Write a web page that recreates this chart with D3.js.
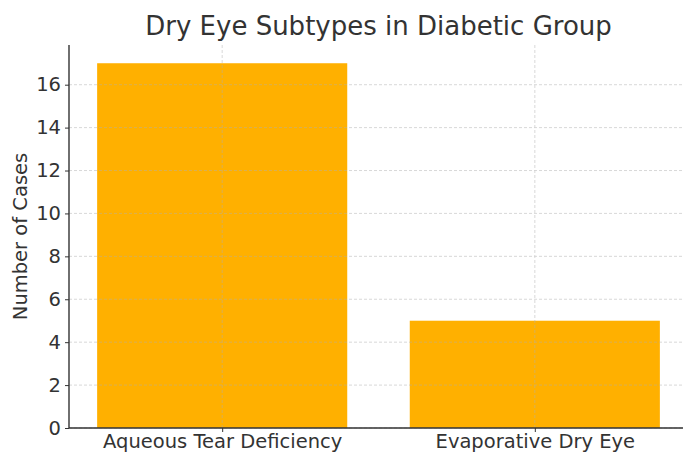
<!DOCTYPE html>
<html><head><meta charset="utf-8">
<script src="https://cdn.jsdelivr.net/npm/d3@7"></script>
<style>body{margin:0;background:#fff}svg{display:block}</style>
</head><body>
<script>
const categories = ["Aqueous Tear Deficiency", "Evaporative Dry Eye"];
const counts = [17, 5];
const yTicks = [0, 2, 4, 6, 8, 10, 12, 14, 16];
const title = "Dry Eye Subtypes in Diabetic Group";
const yTitle = "Number of Cases";

const W = 683, H = 455;
const m = {left: 69, right: W - 688, top: 45, bottom: H - 428};
const svg = d3.select("body").append("svg").attr("width", W).attr("height", H)
  .style("font-family", "DejaVu Sans, sans-serif");

const x = d3.scaleLinear().domain([-0.49, 1.49]).range([m.left, W - m.right]);
const y = d3.scaleLinear().domain([0, 17.85]).range([H - m.bottom, m.top]);
const bw = x(0.8) - x(0);

const g = svg.append("g");
g.selectAll("rect.bar").data(counts).enter().append("rect")
  .attr("x", (d, i) => x(i - 0.4)).attr("width", bw)
  .attr("y", d => y(d)).attr("height", d => y(0) - y(d))
  .attr("fill", "#FFB000");

// grid
const grid = svg.append("g").attr("stroke", "#b0b0b0").attr("stroke-dasharray", "3,2")
  .attr("stroke-width", 0.8).attr("opacity", 0.6);
yTicks.forEach(t => grid.append("line").attr("x1", m.left).attr("x2", W).attr("y1", y(t)).attr("y2", y(t)));
categories.forEach((c, i) => grid.append("line").attr("x1", x(i)).attr("x2", x(i)).attr("y1", m.top).attr("y2", H - m.bottom));

// axes
const yAxis = d3.axisLeft(y).tickValues(yTicks).tickSize(4).tickPadding(4);
const ya = svg.append("g").attr("transform", `translate(${m.left},0)`).call(yAxis);
ya.select(".domain").attr("d", `M0,${m.top}V${H - m.bottom}`);
const xAxis = d3.axisBottom(x).tickValues(categories.map((c, i) => i)).tickFormat(i => categories[i]).tickSize(4).tickPadding(2);
const xa = svg.append("g").attr("transform", `translate(0,${H - m.bottom})`).call(xAxis);
xa.select(".domain").attr("d", `M${m.left},0H${W}`);
[ya, xa].forEach(a => {
  a.selectAll(".domain").attr("stroke", "#333").attr("stroke-width", 1.4);
  a.selectAll(".tick line").attr("stroke", "#333").attr("stroke-width", 1);
  a.selectAll(".tick text").attr("fill", "#333").style("font-size", "19.5px").style("font-family", "DejaVu Sans, sans-serif");
});

svg.append("text").attr("x", (m.left + 688) / 2).attr("y", 35).attr("text-anchor", "middle")
  .attr("fill", "#333").style("font-size", "26px").text(title);
svg.append("text").attr("transform", `translate(27,${(m.top + H - m.bottom) / 2}) rotate(-90)`)
  .attr("text-anchor", "middle").attr("fill", "#333").style("font-size", "19.5px").text(yTitle);
</script>
</body></html>
